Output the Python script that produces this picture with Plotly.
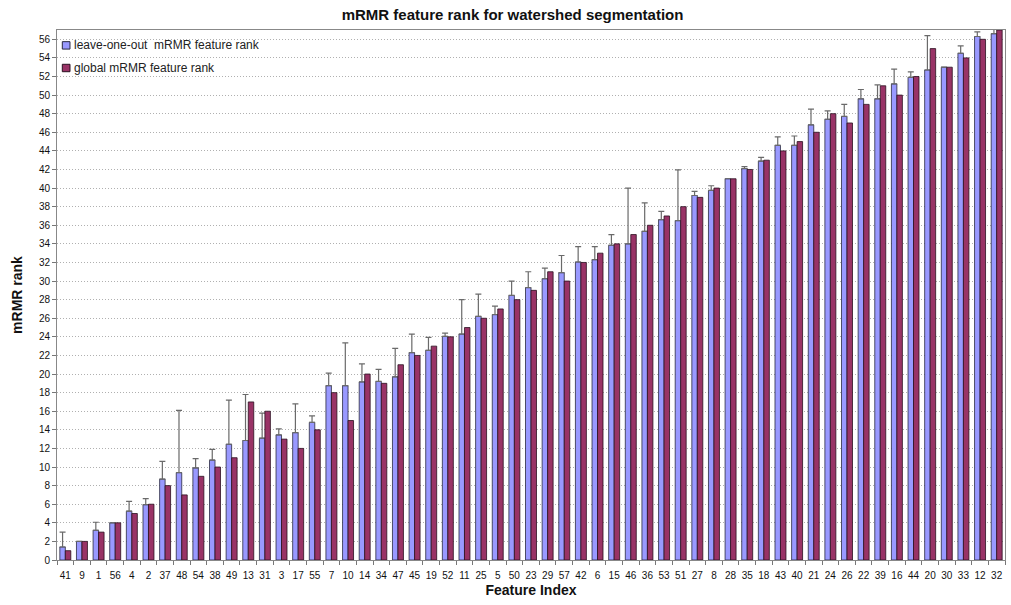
import plotly.graph_objects as go

# Feature indices, ordered along the x axis
features = ["41", "9", "1", "56", "4", "2", "37", "48", "54", "38",
            "49", "13", "31", "3", "17", "55", "7", "10", "14", "34",
            "47", "45", "19", "52", "11", "25", "5", "50", "23", "29",
            "57", "42", "6", "15", "46", "36", "53", "51", "27", "8",
            "28", "35", "18", "43", "40", "21", "24", "26", "22", "39",
            "16", "44", "20", "30", "33", "12", "32"]

# Mean rank over leave-one-out runs
loo_rank = [1.4, 2.0, 3.2, 4.0, 5.25, 5.95, 8.7, 9.4, 9.9, 10.75,
            12.45, 12.85, 13.1, 13.45, 13.7, 14.8, 18.75, 18.75, 19.15, 19.2,
            19.7, 22.3, 22.55, 24.05, 24.3, 26.2, 26.4, 28.45, 29.3, 30.25,
            30.9, 32.05, 32.3, 33.85, 34.0, 35.35, 36.6, 36.5, 39.2, 39.75,
            41.0, 42.1, 42.9, 44.6, 44.6, 46.8, 47.4, 47.7, 49.6, 49.6,
            51.2, 51.9, 52.7, 53.0, 54.5, 56.3, 56.6]

# Upper spread of the leave-one-out rank (None = no spread)
loo_err = [1.6, None, 0.86, None, 1.05, 0.65, 1.9, 6.7, 1.0, 1.15,
           4.75, 4.95, 2.7, 0.65, 3.1, 0.7, 1.35, 4.6, 1.95, 1.3,
           3.05, 2.0, 1.4, 0.35, 3.7, 2.4, 0.9, 1.55, 1.7, 1.15,
           1.85, 1.65, 1.4, 1.15, 6.0, 3.05, 0.9, 5.45, 0.45, 0.5,
           None, 0.2, 0.4, 0.9, 1.0, 1.7, 0.9, 1.3, 1.0, 1.5,
           1.6, 0.6, 3.7, None, 0.8, 0.5, 0.5]

# Rank obtained on the full data set
global_rank = [1, 2, 3, 4, 5, 6, 8, 7, 9, 10,
               11, 17, 16, 13, 12, 14, 18, 15, 20, 19,
               21, 22, 23, 24, 25, 26, 27, 28, 29, 31,
               30, 32, 33, 34, 35, 36, 37, 38, 39, 40,
               41, 42, 43, 44, 45, 46, 48, 47, 49, 51,
               50, 52, 55, 53, 54, 56, 57]

y_ticks = list(range(0, 57, 2))

series_names = ["leave-one-out\u00a0 mRMR feature rank", "global mRMR feature rank"]
series_colors = ["#9999FF", "#993366"]
series_edges = ["#2a2a40", "#2a1020"]

FONT = "Liberation Sans, Arial, sans-serif"

fig = go.Figure()
fig.add_trace(go.Bar(
    x=features, y=loo_rank, name=series_names[0],
    marker=dict(color=series_colors[0], line=dict(color=series_edges[0], width=0.8)),
    error_y=dict(type="data", symmetric=False, array=loo_err,
                 arrayminus=[0] * len(loo_err),
                 color="#6a6a6a", thickness=1.2, width=3),
))
fig.add_trace(go.Bar(
    x=features, y=global_rank, name=series_names[1],
    marker=dict(color=series_colors[1], line=dict(color=series_edges[1], width=0.8)),
))

# Legend box in the upper-left corner of the plot: a white panel that
# interrupts the gridlines, with a small swatch and label per series
fig.add_shape(type="rect", xref="paper", yref="paper", layer="between",
              x0=0.001, x1=0.246, y0=0.902, y1=0.998,
              fillcolor="white", line=dict(width=0))
legend_rows = [(0.964, 0.978, 0.9711), (0.9213, 0.9353, 0.9283)]
for (y0, y1, ty), name, col, edge in zip(legend_rows, series_names,
                                         series_colors, series_edges):
    fig.add_shape(type="rect", xref="paper", yref="paper", layer="above",
                  x0=0.0056, x1=0.0137, y0=y0, y1=y1,
                  fillcolor=col, line=dict(color=edge, width=1))
    fig.add_annotation(xref="paper", yref="paper", x=0.0158, y=ty,
                       xanchor="left", yanchor="middle", showarrow=False,
                       text=name, font=dict(size=12, family=FONT, color="#222222"))

fig.update_layout(
    width=1011, height=605,
    margin=dict(l=57, r=6, t=30, b=45),
    paper_bgcolor="white", plot_bgcolor="white",
    barmode="group", bargap=0.34, bargroupgap=0.0,
    font=dict(family=FONT, color="#111111"),
    title=dict(text="<b>mRMR feature rank for watershed segmentation</b>",
               x=0.507, xanchor="center", y=0.975, yanchor="middle",
               font=dict(size=15, family=FONT, color="#111111")),
    showlegend=False,
)

fig.update_xaxes(
    type="category", tickson="boundaries", tickangle=0,
    ticks="outside", ticklen=4, tickcolor="#777777",
    ticklabelstandoff=6,
    tickfont=dict(size=10, family=FONT, color="#111111"),
    showline=True, linecolor="#888888", linewidth=1, mirror=True,
    showgrid=False,
    title=dict(text="<b>Feature Index</b>", standoff=5,
               font=dict(size=14, family=FONT, color="#111111")),
)
fig.update_yaxes(
    range=[0, 57], tickvals=y_ticks,
    ticks="outside", ticklen=4, tickcolor="#777777",
    tickfont=dict(size=10, family=FONT, color="#111111"),
    showline=True, linecolor="#888888", linewidth=1, mirror=True,
    showgrid=True, gridcolor="#b0b0b0", griddash="1px,2px", gridwidth=1,
    zeroline=False,
    title=dict(text="<b>mRMR rank</b>", standoff=12,
               font=dict(size=14, family=FONT, color="#111111")),
)

fig.write_html("out.html")
